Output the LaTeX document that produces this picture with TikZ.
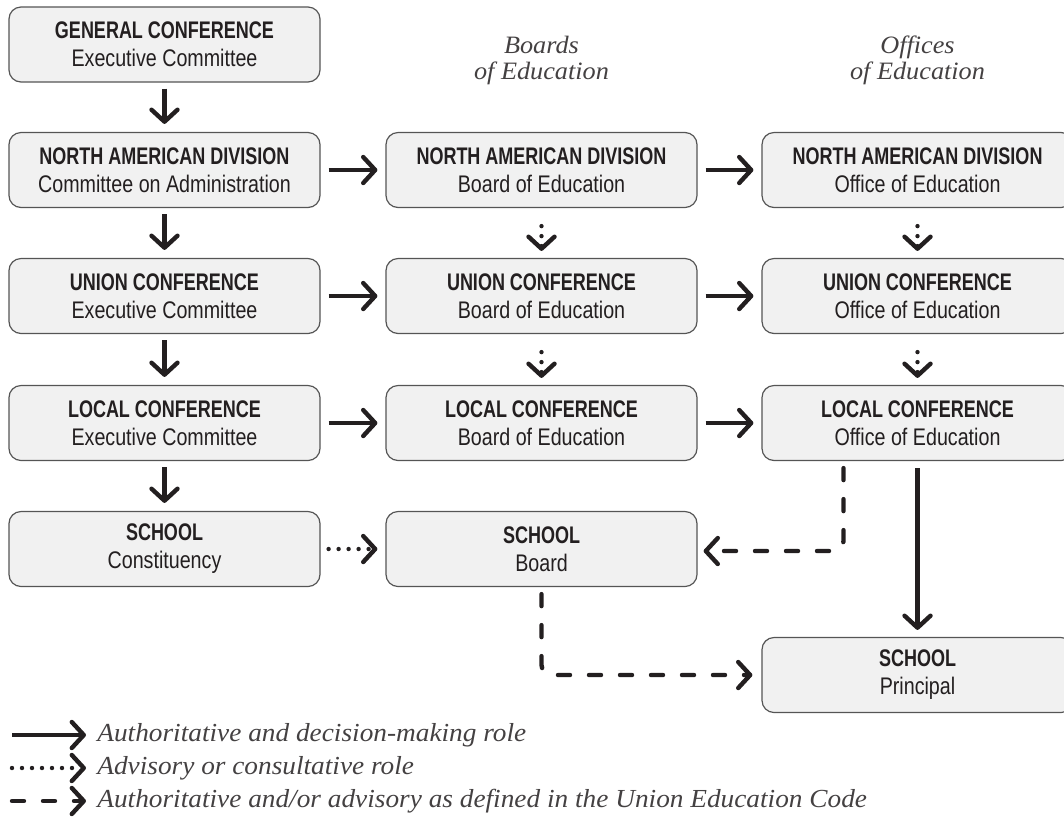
\documentclass[tikz,border=0pt]{standalone}
\usepackage{fontspec}
\setmainfont{Liberation Serif}
\newfontfamily\boxfont[FakeStretch=0.82, BoldFeatures={FakeStretch=0.75}]{Liberation Sans}
\newfontfamily\notefont[FakeStretch=1.05]{Liberation Serif}
\usetikzlibrary{arrows.meta}
\definecolor{boxfill}{HTML}{F1F1F1}
\definecolor{boxline}{HTML}{555555}
\definecolor{inkdark}{HTML}{231F20}

\begin{document}
\begin{tikzpicture}[x=0.5pt, y=-0.5pt,
    every node/.style={text=inkdark},
    unit/.style={draw=boxline, line width=0.6pt, fill=boxfill, rounded corners=6pt,
        minimum width=155.5pt, minimum height=37.5pt, align=center, inner sep=0pt,
        font=\boxfont\fontsize{12}{14}\selectfont},
    head/.style={align=center, text=inkdark!85, font=\notefont\itshape\fontsize{12.5}{13}\selectfont},
    note/.style={anchor=west, inner sep=0pt, text=inkdark!85, font=\notefont\itshape\fontsize{13}{13}\selectfont},
    authority/.style={draw=inkdark, line width=2.2pt, -{Straight Barb[length=6pt,width=13pt,round]}},
    advisory/.style={authority, line cap=round, dash pattern=on 0pt off 5pt},
    codeline/.style={authority, line cap=round, dash pattern=on 6pt off 9.5pt, rounded corners=5pt}]

    \clip (0,0) rectangle (1064,837);

    % Column heads
    \node (boardshead) at (541.5,60) [head] {Boards\\of Education};
    \node (officeshead) at (917.5,60) [head] {Offices\\of Education};

    % Committees
    \node (gc) at (164.5,44.5) [unit] {\textbf{GENERAL CONFERENCE}\\Executive Committee};
    \node (nadcom) at (164.5,170) [unit] {\textbf{NORTH AMERICAN DIVISION}\\Committee on Administration};
    \node (unioncom) at (164.5,296) [unit] {\textbf{UNION CONFERENCE}\\Executive Committee};
    \node (localcom) at (164.5,423) [unit] {\textbf{LOCAL CONFERENCE}\\Executive Committee};
    \node (schoolconst) at (164.5,549) [unit] {\textbf{SCHOOL}\\Constituency};

    % Boards
    \node (nadboard) at (541.5,170) [unit] {\textbf{NORTH AMERICAN DIVISION}\\Board of Education};
    \node (unionboard) at (541.5,296) [unit] {\textbf{UNION CONFERENCE}\\Board of Education};
    \node (localboard) at (541.5,423) [unit] {\textbf{LOCAL CONFERENCE}\\Board of Education};
    \node (schoolboard) at (541.5,549) [unit] {\textbf{SCHOOL}\\Board};

    % Offices
    \node (nadoffice) at (917.5,170) [unit] {\textbf{NORTH AMERICAN DIVISION}\\Office of Education};
    \node (unionoffice) at (917.5,296) [unit] {\textbf{UNION CONFERENCE}\\Office of Education};
    \node (localoffice) at (917.5,423) [unit] {\textbf{LOCAL CONFERENCE}\\Office of Education};
    \node (principal) at (917.5,675) [unit] {\textbf{SCHOOL}\\Principal};

    % Edges
    \draw[authority, shorten <=3pt, shorten >=4pt] (gc) -- (nadcom);
    \draw[authority, shorten <=3pt, shorten >=4pt] (nadcom) -- (unioncom);
    \draw[authority, shorten <=3pt, shorten >=4pt] (unioncom) -- (localcom);
    \draw[authority, shorten <=3pt, shorten >=4pt] (localcom) -- (schoolconst);
    \draw[authority, shorten <=4pt, shorten >=4pt] (nadcom) -- (nadboard);
    \draw[authority, shorten <=4pt, shorten >=4pt] (unioncom) -- (unionboard);
    \draw[authority, shorten <=4pt, shorten >=4pt] (localcom) -- (localboard);
    \draw[authority, shorten <=4pt, shorten >=4pt] (nadboard) -- (nadoffice);
    \draw[authority, shorten <=4pt, shorten >=4pt] (unionboard) -- (unionoffice);
    \draw[authority, shorten <=4pt, shorten >=4pt] (localboard) -- (localoffice);
    \draw[advisory, shorten <=9pt, shorten >=3.5pt] (nadboard) -- (unionboard);
    \draw[advisory, shorten <=9pt, shorten >=3.5pt] (unionboard) -- (localboard);
    \draw[advisory, shorten <=9pt, shorten >=3.5pt] (nadoffice) -- (unionoffice);
    \draw[advisory, shorten <=9pt, shorten >=3.5pt] (unionoffice) -- (localoffice);
    \draw[advisory, shorten <=4pt, shorten >=4pt] (schoolconst) -- (schoolboard);
    \draw[authority, shorten <=3.5pt, shorten >=3.5pt] (localoffice) -- (principal);
    \draw[codeline] ([xshift=-37pt, yshift=-3.5pt]localoffice.south) |- ([xshift=3pt, yshift=-1pt]schoolboard.east);
    \draw[codeline] ([yshift=-3.5pt]schoolboard.south) |- ([xshift=-4.5pt]principal.west);

    % Legend
    \coordinate (solidtail) at (12,735);
    \coordinate (solidhead) at (86,735);
    \coordinate (dottail) at (12,768);
    \coordinate (dothead) at (86,768);
    \coordinate (dashtail) at (12,801);
    \coordinate (dashhead) at (86,801);
    \draw[authority] (solidtail) -- (solidhead);
    \draw[advisory] (dottail) -- (dothead);
    \draw[codeline] (dashtail) -- (dashhead);
    \node (solidnote) at (97,735) [note] {Authoritative and decision-making role};
    \node (dotnote) at (97,768) [note] {Advisory or consultative role};
    \node (dashnote) at (97,801) [note] {Authoritative and/or advisory as defined in the Union Education Code};

\end{tikzpicture}
\end{document}
